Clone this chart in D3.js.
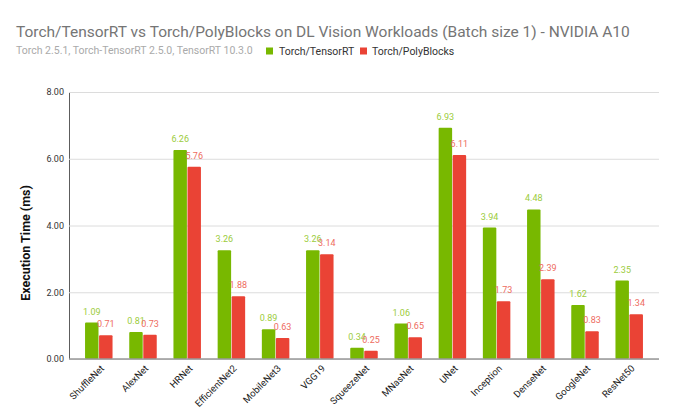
<!DOCTYPE html>
<html><head><meta charset="utf-8">
<script src="https://cdn.jsdelivr.net/npm/d3@7"></script>
<style>body{margin:0;background:#fff;}svg{display:block;font-family:Roboto,Arial,sans-serif;}</style>
</head><body>
<svg id="c" width="680" height="420"></svg>
<script>
const categories = ["ShuffleNet","AlexNet","HRNet","EfficientNet2","MobileNet3","VGG19","SqueezeNet","MNasNet","UNet","Inception","DenseNet","GoogleNet","ResNet50"];
const tensorrt = [1.09,0.81,6.26,3.26,0.89,3.26,0.34,1.06,6.93,3.94,4.48,1.62,2.35];
const polyblocks = [0.71,0.73,5.76,1.88,0.63,3.14,0.25,0.65,6.11,1.73,2.39,0.83,1.34];
const seriesNames = ["Torch/TensorRT","Torch/PolyBlocks"];
const yTicks = [0,2,4,6,8];

const svg = d3.select("#c");
const L=69,R=659,T=92,B=359;
const x = d3.scaleBand().domain(categories).range([L,R]).paddingInner(0.378).paddingOuter(0.363);
const xs = d3.scaleBand().domain([0,1]).range([0,x.bandwidth()]).paddingInner(0.04);
const y = d3.scaleLinear().domain([0,8]).range([B,T]);
const colors=["#78b800","#ea4335"], labelColors=["#9ccc3c","#ee6b60"];

// title
svg.append("text").attr("x",16).attr("y",37).attr("font-size",15.5).attr("fill","#757575").text("Torch/TensorRT vs Torch/PolyBlocks on DL Vision Workloads (Batch size 1) - NVIDIA A10");
svg.append("text").attr("x",16).attr("y",54).attr("font-size",10.5).attr("fill","#aaaaaa").text("Torch 2.5.1, Torch-TensorRT 2.5.0, TensorRT 10.3.0");
// legend
const leg = svg.append("g");
[[266,279],[360,372]].forEach((p,i)=>{
  leg.append("rect").attr("x",p[0]).attr("y",47.5).attr("width",7).attr("height",7).attr("fill",colors[i]);
  leg.append("text").attr("x",p[1]).attr("y",55).attr("font-size",10.5).attr("fill","#333").text(seriesNames[i]);
});

// grid + y axis
const ya = d3.axisLeft(y).tickValues(yTicks).tickFormat(d3.format(".2f")).tickSize(-(R-L)).tickPadding(5);
const g = svg.append("g").attr("transform",`translate(${L},0)`).call(ya);
g.select(".domain").attr("stroke","#333").attr("stroke-width",0.8);
g.selectAll(".tick line").attr("stroke","#dcdcdc");
g.selectAll(".tick text").attr("font-size",9).attr("fill","#333").attr("font-family","Roboto,Arial,sans-serif");

svg.append("text").attr("transform",`translate(30,243) rotate(-90)`).attr("text-anchor","middle").attr("font-size",12.5).attr("font-weight","bold").attr("fill","#111").text("Execution Time (ms)");

// bars
const data = categories.map((c,i)=>({c,v:[tensorrt[i],polyblocks[i]]}));
const grp = svg.append("g").selectAll("g").data(data).join("g").attr("transform",d=>`translate(${x(d.c)},0)`);
grp.selectAll("rect").data(d=>d.v.map((v,k)=>({v,k}))).join("rect")
  .attr("x",d=>xs(d.k)).attr("width",xs.bandwidth()).attr("y",d=>y(d.v)).attr("height",d=>B-y(d.v))
  .attr("fill",d=>colors[d.k]).attr("rx",1);
grp.selectAll("text.v").data(d=>d.v.map((v,k)=>({v,k}))).join("text").attr("class","v")
  .attr("x",d=>xs(d.k)+xs.bandwidth()/2).attr("y",d=>y(d.v)-8).attr("text-anchor","middle")
  .attr("font-size",9).attr("fill",d=>labelColors[d.k]).text(d=>d.v.toFixed(2));

// baseline
svg.append("line").attr("x1",L).attr("x2",R).attr("y1",B).attr("y2",B).attr("stroke","#999").attr("stroke-width",1.5);

// x labels
const xa = d3.axisBottom(x).tickSize(0).tickPadding(0);
const gx = svg.append("g").attr("transform",`translate(0,${B})`).call(xa);
gx.select(".domain").remove();
gx.selectAll(".tick text").attr("font-size",9.5).attr("fill","#222").attr("font-family","Roboto,Arial,sans-serif")
  .attr("text-anchor","end").attr("dy",0).attr("transform","translate(6,10) rotate(-45)");
</script>
</body></html>
